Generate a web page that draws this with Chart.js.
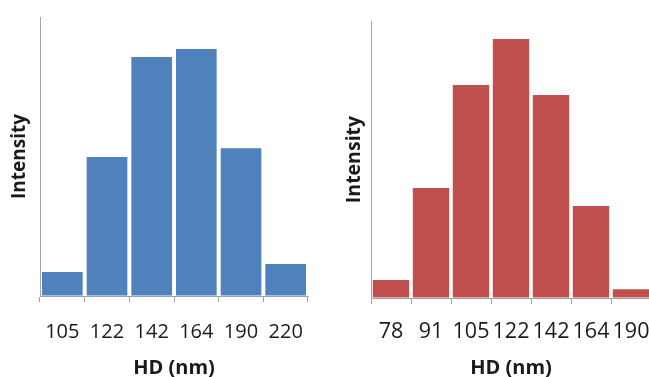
<!DOCTYPE html>
<html>
<head>
<meta charset="utf-8">
<script src="https://cdn.jsdelivr.net/npm/chart.js@4.4.1/dist/chart.umd.min.js"></script>
<style>
  html, body { margin: 0; padding: 0; background: #fff; width: 649px; height: 377px; overflow: hidden; position: relative; }
  canvas { position: absolute; top: 0; }
  #c1 { left: 0; }
  #c2 { left: 325px; }
</style>
</head>
<body>
<canvas id="c1" width="325" height="380"></canvas>
<canvas id="c2" width="326" height="380"></canvas>
<script>
const leftCategories = ["105", "122", "142", "164", "190", "220"];
const leftValues = [8.6, 49.8, 85.7, 88.5, 53.0, 11.5];
const rightCategories = ["78", "91", "105", "122", "142", "164", "190"];
const rightValues = [6.5, 39.7, 76.9, 93.5, 73.3, 33.2, 3.2];
const xTitle = "HD (nm)";
const yTitle = "Intensity";

const AXIS = "#a3a3a3";
const FONT = "'Open Sans', 'Noto Sans', sans-serif";

function makeChart(id, cats, vals, color, cfg) {
  return new Chart(document.getElementById(id), {
    type: 'bar',
    data: {
      labels: cats,
      datasets: [{ data: vals, backgroundColor: color, borderWidth: 0,
                   barPercentage: 0.91, categoryPercentage: 1.0 }]
    },
    options: {
      responsive: false,
      animation: false,
      devicePixelRatio: 1,
      layout: { padding: { top: cfg.top, right: cfg.right, left: 0, bottom: 0 } },
      plugins: { legend: { display: false }, tooltip: { enabled: false } },
      scales: {
        x: {
          grid: { display: true, drawOnChartArea: false, drawTicks: true, tickLength: 6, color: AXIS, offset: true },
          border: { display: true, color: AXIS, width: 1 },
          ticks: { color: '#1a1a1a', font: { family: FONT, size: cfg.tickSize }, padding: cfg.tickPad,
                   autoSkip: false, maxRotation: 0, minRotation: 0 },
          title: { display: true, text: xTitle, color: '#1a1a1a',
                   font: { family: FONT, size: 20, weight: 'bold' }, padding: { top: 0, bottom: 0 } },
          afterFit: s => { s.height = cfg.xh; s.paddingLeft = 0; s.paddingRight = 0; }
        },
        y: {
          min: 0, max: 100,
          grid: { display: true, drawOnChartArea: false, drawTicks: false, color: AXIS },
          border: { display: true, color: AXIS, width: 1 },
          ticks: { display: false },
          title: { display: true, text: yTitle, color: '#1a1a1a',
                   font: { family: FONT, size: cfg.ySize, weight: 'bold' }, padding: { top: cfg.yPad, bottom: 0 } },
          afterFit: s => { s.width = cfg.yw; }
        }
      }
    }
  });
}

makeChart('c1', leftCategories, leftValues, '#4f81bd',
  { top: 17, right: 17, xh: 84, yw: 40, tickSize: 20, tickPad: 18, ySize: 19, yPad: 8 });
makeChart('c2', rightCategories, rightValues, '#c0504d',
  { top: 21, right: 0, xh: 82, yw: 46, tickSize: 21.5, tickPad: 15, ySize: 19.5, yPad: 18 });
</script>
</body>
</html>
